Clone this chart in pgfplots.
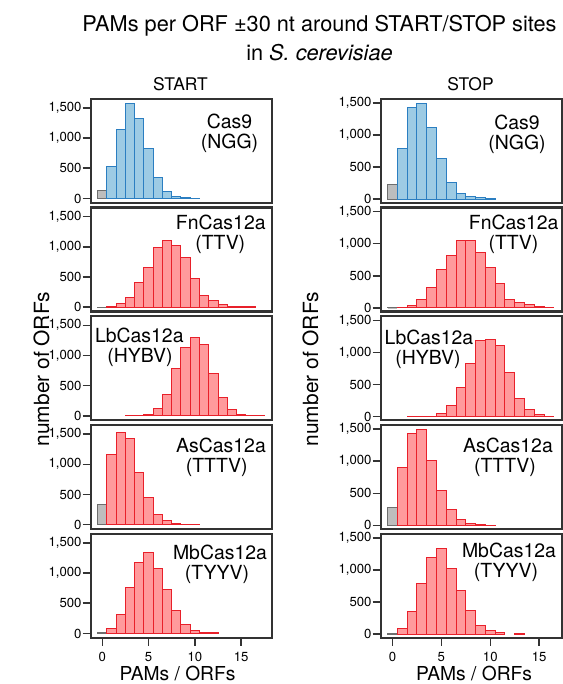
\documentclass[border=0pt]{standalone}
\usepackage{fontspec}
\setmainfont{TeX Gyre Heros}
\usepackage{pgfplots}
\pgfplotsset{compat=1.18}

\definecolor{framec}{HTML}{333333}
\definecolor{bluefill}{HTML}{9DCBE4}
\definecolor{blueedge}{HTML}{2B7EC1}
\definecolor{redfill}{HTML}{FF9A9C}
\definecolor{rededge}{HTML}{E8202A}
\definecolor{grayfill}{HTML}{BDBDBD}
\definecolor{grayedge}{HTML}{6E6E6E}

\pgfplotsset{
  panel/.style={
    scale only axis, width=181bp, height=104bp,
    ybar, bar width=1, bar shift=0pt,
    axis line style={line width=2.3bp, framec},
    ytick={0,500,1000,1500}, ytick pos=left,
    xtick=\empty,
    tick align=outside, major tick length=8bp,
    tick style={line width=1.5bp, framec},
    tick label style={font=\fontsize{13.2}{15}\selectfont},
    yticklabel style={inner sep=0pt, xshift=-1bp},
    /pgf/number format/assume math mode=true,
    /pgf/number format/1000 sep={,},
  },
  leftcol/.style={panel, xmin=-1.25, xmax=18.3, ymin=-70, ymax=1650},
  rightcol/.style={panel, xmin=-1.2, xmax=17.3, ymin=-55, ymax=1565},
  bottomrow/.style={xtick={0,5,10,15}, xtick pos=bottom,
    xticklabel style={yshift=-3bp}},
  grayb/.style={fill=grayfill, draw=grayedge, line width=1bp},
  blueb/.style={fill=bluefill, draw=blueedge, line width=1bp},
  redb/.style={fill=redfill, draw=rededge, line width=1bp},
}

\newcommand{\lbl}[5]{% x1, x2, captop, line1, line2
  \node[anchor=base, inner sep=0pt, font=\fontsize{19.5}{20}\selectfont] at (#1bp,-#3bp-14bp) {#4};
  \node[anchor=base, inner sep=0pt, font=\fontsize{19.5}{20}\selectfont] at (#2bp,-#3bp-34bp) {#5};
}

\begin{document}
\begin{tikzpicture}
\useasboundingbox (0,0) rectangle (563bp,-684bp);

% ---- START column ----
\begin{axis}[leftcol, at={(90.7bp,-202.7bp)}, anchor=south west]
  \addplot[grayb] coordinates {(0,130)};
  \addplot[blueb] coordinates {(1,527) (2,1137) (3,1577) (4,1324) (5,824) (6,346) (7,115) (8,33) (9,15) (10,5)};
\end{axis}
\begin{axis}[leftcol, at={(90.7bp,-311.45bp)}, anchor=south west]
  \addplot[grayb] coordinates {(0,3)};
  \addplot[redb] coordinates {(1,8) (2,55) (3,158) (4,415) (5,655) (6,993) (7,1102) (8,1020) (9,818) (10,480) (11,191) (12,109) (13,49) (14,16) (15,10) (16,5)};
\end{axis}
\begin{axis}[leftcol, at={(90.7bp,-420.2bp)}, anchor=south west]
  \addplot[redb] coordinates {(3,5) (4,5) (5,30) (6,126) (7,357) (8,780) (9,1137) (10,1297) (11,1187) (12,703) (13,308) (14,110) (15,27) (16,10) (17,5)};
\end{axis}
\begin{axis}[leftcol, at={(90.7bp,-528.95bp)}, anchor=south west]
  \addplot[grayb] coordinates {(0,335)};
  \addplot[redb] coordinates {(1,1159) (2,1533) (3,1418) (4,863) (5,445) (6,165) (7,71) (8,22) (9,11) (10,5)};
\end{axis}
\begin{axis}[leftcol, bottomrow, at={(90.7bp,-637.7bp)}, anchor=south west]
  \addplot[grayb] coordinates {(0,8)};
  \addplot[redb] coordinates {(1,82) (2,313) (3,758) (4,1181) (5,1335) (6,1071) (7,725) (8,374) (9,148) (10,55) (11,16) (12,10)};
\end{axis}

% ---- STOP column ----
\begin{axis}[rightcol, at={(380.7bp,-202.7bp)}, anchor=south west]
  \addplot[grayb] coordinates {(0,223)};
  \addplot[blueb] coordinates {(1,790) (2,1431) (3,1494) (4,1123) (5,631) (6,254) (7,95) (8,42) (9,21) (10,10)};
\end{axis}
\begin{axis}[rightcol, at={(380.7bp,-311.45bp)}, anchor=south west]
  \addplot[grayb] coordinates {(0,3)};
  \addplot[redb] coordinates {(1,8) (2,37) (3,125) (4,314) (5,596) (6,815) (7,1045) (8,1045) (9,868) (10,622) (11,376) (12,136) (13,78) (14,47) (15,16) (16,10)};
\end{axis}
\begin{axis}[rightcol, at={(380.7bp,-420.2bp)}, anchor=south west]
  \addplot[redb] coordinates {(2,3) (3,5) (4,10) (5,42) (6,168) (7,447) (8,821) (9,1189) (10,1200) (11,1116) (12,684) (13,279) (14,105) (15,37) (16,5)};
\end{axis}
\begin{axis}[rightcol, at={(380.7bp,-528.95bp)}, anchor=south west]
  \addplot[grayb] coordinates {(0,274)};
  \addplot[redb] coordinates {(1,900) (2,1426) (3,1500) (4,1010) (5,547) (6,247) (7,95) (8,37) (9,16) (10,5)};
\end{axis}
\begin{axis}[rightcol, bottomrow, at={(380.7bp,-637.7bp)}, anchor=south west]
  \addplot[grayb] coordinates {(0,5)};
  \addplot[redb] coordinates {(1,94) (2,355) (3,784) (4,1187) (5,1333) (6,1019) (7,680) (8,376) (9,141) (10,57) (11,21) (13,8)};
\end{axis}

% panel labels
\lbl{229.5}{229.5}{114}{Cas9}{(NGG)}
\lbl{220.8}{220.3}{215}{FnCas12a}{(TTV)}
\lbl{139.3}{140}{328.3}{LbCas12a}{(HYBV)}
\lbl{221}{216.7}{438.3}{AsCas12a}{(TTTV)}
\lbl{220}{217}{545}{MbCas12a}{(TYYV)}
\lbl{517}{517}{115}{Cas9}{(NGG)}
\lbl{513.7}{513.5}{215}{FnCas12a}{(TTV)}
\lbl{429}{428}{330}{LbCas12a}{(HYBV)}
\lbl{508}{505}{438.3}{AsCas12a}{(TTTV)}
\lbl{509}{506}{543.3}{MbCas12a}{(TYYV)}

% titles and axis labels
\node[anchor=base, inner sep=0pt, font=\fontsize{21.8}{24}\selectfont] at (319.5bp,-31.7bp) {PAMs per ORF ±30 nt around START/STOP sites};
\node[anchor=base, inner sep=0pt, font=\fontsize{21.8}{24}\selectfont] at (319.5bp,-60.6bp) {in \textit{S. cerevisiae}};
\node[anchor=base, inner sep=0pt, font=\fontsize{17.5}{20}\selectfont] at (180.5bp,-90bp) {START};
\node[anchor=base, inner sep=0pt, font=\fontsize{17.5}{20}\selectfont] at (470.5bp,-90bp) {STOP};
\node[anchor=base, inner sep=0pt, rotate=90, font=\fontsize{21}{24}\selectfont] at (49bp,-369bp) {number of ORFs};
\node[anchor=base, inner sep=0pt, rotate=90, font=\fontsize{21}{24}\selectfont] at (318bp,-369bp) {number of ORFs};
\node[anchor=base, inner sep=0pt, font=\fontsize{19.3}{22}\selectfont] at (177.5bp,-680.5bp) {PAMs / ORFs};
\node[anchor=base, inner sep=0pt, font=\fontsize{19.3}{22}\selectfont] at (474bp,-680.5bp) {PAMs / ORFs};
\end{tikzpicture}
\end{document}
